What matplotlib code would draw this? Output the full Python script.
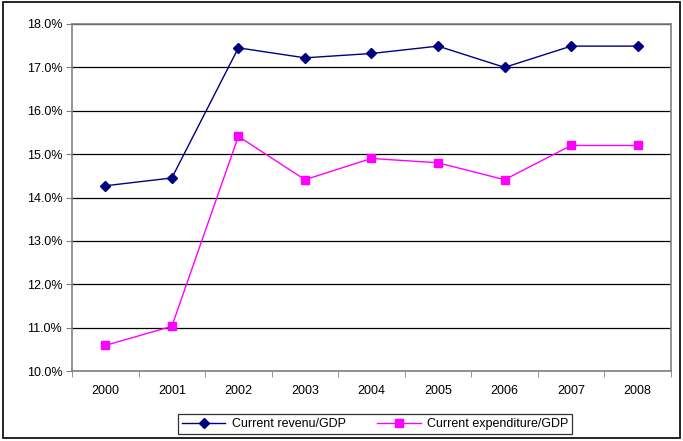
import matplotlib
matplotlib.use("Agg")
import matplotlib.pyplot as plt
from matplotlib.patches import Rectangle
from matplotlib.ticker import FuncFormatter

plt.rcParams['font.family'] = ['Liberation Sans', 'DejaVu Sans']

years = ['2000', '2001', '2002', '2003', '2004', '2005', '2006', '2007', '2008']
revenue = [14.27, 14.45, 17.45, 17.22, 17.32, 17.49, 17.0, 17.49, 17.49]
expenditure = [10.59, 11.03, 15.41, 14.41, 14.9, 14.8, 14.41, 15.2, 15.2]

fig = plt.figure(figsize=(6.83, 4.41), dpi=100)
ax = fig.add_axes([0.1054, 0.1587, 0.877, 0.7869])

x = list(range(len(years)))
ax.plot(x, revenue, color='#000080', marker='D', markersize=5, linewidth=1,
        label='Current revenu/GDP', zorder=3)
ax.plot(x, expenditure, color='#FF00FF', marker='s', markersize=5.5, linewidth=1,
        label='Current expenditure/GDP', zorder=3)

ax.set_xlim(-0.5, len(years) - 0.5)
ax.set_ylim(10, 18)
ax.set_yticks([10, 11, 12, 13, 14, 15, 16, 17, 18])
ax.yaxis.set_major_formatter(FuncFormatter(lambda v, p: f'{v:.1f}%'))
ax.set_xticks(x)
ax.set_xticklabels(years)
ax.set_xticks([i - 0.5 for i in range(len(years) + 1)], minor=True)
ax.tick_params(axis='x', which='major', length=0, pad=10, labelsize=9)
ax.tick_params(axis='x', which='minor', length=4, color='#808080')
ax.tick_params(axis='y', length=4, color='#808080', labelsize=9, pad=3)
ax.grid(axis='y', color='black', linewidth=0.9)
for s in ax.spines.values():
    s.set_color('#808080')
    s.set_linewidth(1.2)

leg = fig.legend(loc='center', bbox_to_anchor=(0.549, 0.0385), ncol=2,
                 fontsize=9, frameon=True, fancybox=False, edgecolor='black',
                 borderpad=0.3, handlelength=3.5, columnspacing=2.5,
                 handletextpad=0.5)
leg.get_frame().set_linewidth(0.9)

fig.patches.append(Rectangle((0.004, 0.006), 0.992, 0.99, transform=fig.transFigure,
                             fill=False, edgecolor='black', linewidth=1.2))

fig.savefig('out.png', dpi=100)
